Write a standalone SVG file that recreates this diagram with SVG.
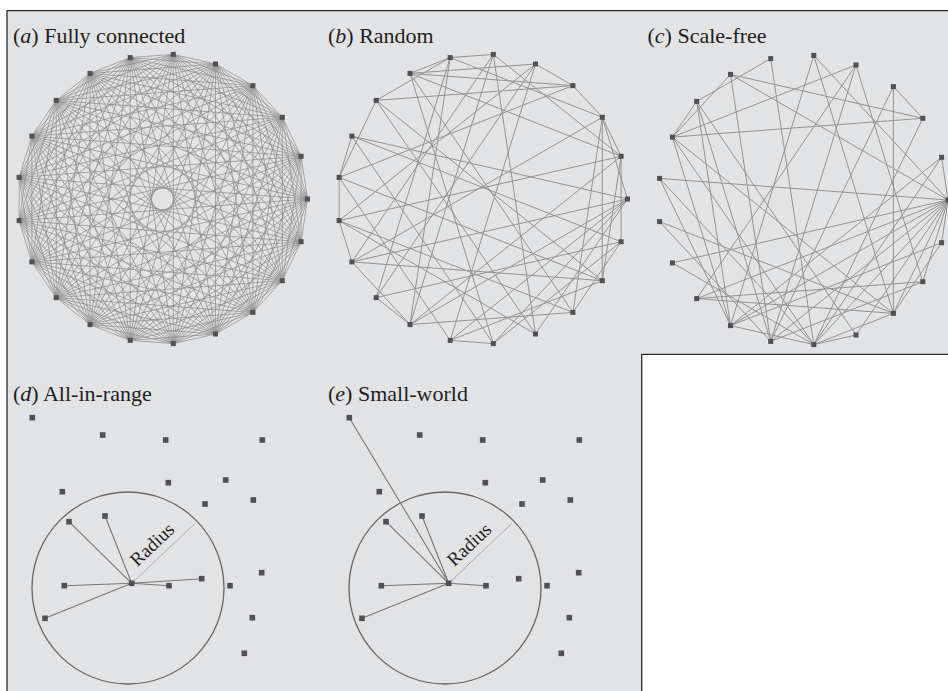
<svg xmlns="http://www.w3.org/2000/svg" xmlns:xlink="http://www.w3.org/1999/xlink" width="948" height="691" viewBox="0 0 948 691">
<style>
.t{font-family:"Liberation Serif","Times New Roman",serif;font-size:22px;fill:#1e1e1e}
.ka{fill:none;stroke:#8a8a8a;stroke-width:0.7;stroke-linejoin:round}
.e{fill:none;stroke:#939393;stroke-width:1}
.ed{fill:none;stroke:#767676;stroke-width:1.1}
.rad{fill:none;stroke:#a3a3a3;stroke-width:0.9}
.cir{fill:none;stroke:#666;stroke-width:1.3}
.nd{fill:#4f5154}
</style>
<defs>
<rect id="sq" x="-2.5" y="-2.5" width="5" height="5"/>
<rect id="sqb" x="-2.8" y="-2.8" width="5.6" height="5.6"/>
</defs>
<rect x="0" y="0" width="948" height="691" fill="#ffffff"/>
<path d="M7,10.7 H952 V354.3 H641.7 V695 H7 Z" fill="#e2e3e5" stroke="#2a2a2a" stroke-width="1.3"/>

<text class="t" x="13" y="42.5">(<tspan font-style="italic">a</tspan>) Fully connected</text>
<text class="t" x="328" y="42.5">(<tspan font-style="italic">b</tspan>) Random</text>
<text class="t" x="647.5" y="42.5">(<tspan font-style="italic">c</tspan>) Scale-free</text>
<text class="t" x="13" y="400.5">(<tspan font-style="italic">d</tspan>) All-in-range</text>
<text class="t" x="328" y="400.5">(<tspan font-style="italic">e</tspan>) Small-world</text>

<!-- Panel a: fully connected -->
<g id="edges-a" transform="translate(162.5,199)" class="ka">
<path d="M145,0 L138.6,-42.7 119.8,-81.7 90.4,-113.4 53,-135 10.8,-144.6 -32.3,-141.4 -72.5,-125.6 -106.3,-98.6 -130.6,-62.9 -143.4,-21.6 -143.4,21.6 -130.6,62.9 -106.3,98.6 -72.5,125.6 -32.3,141.4 10.8,144.6 53,135 90.4,113.4 119.8,81.7 138.6,42.7Z"/>
<path d="M145,0 L119.8,-81.7 53,-135 -32.3,-141.4 -106.3,-98.6 -143.4,-21.6 -130.6,62.9 -72.5,125.6 10.8,144.6 90.4,113.4 138.6,42.7 138.6,-42.7 90.4,-113.4 10.8,-144.6 -72.5,-125.6 -130.6,-62.9 -143.4,21.6 -106.3,98.6 -32.3,141.4 53,135 119.8,81.7Z"/>
<path d="M145,0 L53,-135 -106.3,-98.6 -130.6,62.9 10.8,144.6 138.6,42.7 90.4,-113.4 -72.5,-125.6 -143.4,21.6 -32.3,141.4 119.8,81.7 119.8,-81.7 -32.3,-141.4 -143.4,-21.6 -72.5,125.6 90.4,113.4 138.6,-42.7 10.8,-144.6 -130.6,-62.9 -106.3,98.6 53,135Z"/>
<path d="M145,0 L10.8,-144.6 -143.4,-21.6 -32.3,141.4 138.6,42.7 53,-135 -130.6,-62.9 -72.5,125.6 119.8,81.7 90.4,-113.4 -106.3,-98.6 -106.3,98.6 90.4,113.4 119.8,-81.7 -72.5,-125.6 -130.6,62.9 53,135 138.6,-42.7 -32.3,-141.4 -143.4,21.6 10.8,144.6Z"/>
<path d="M145,0 L-106.3,-98.6 10.8,144.6 90.4,-113.4 -143.4,21.6 119.8,81.7 -32.3,-141.4 -72.5,125.6 138.6,-42.7 -130.6,-62.9 53,135 53,-135 -130.6,62.9 138.6,42.7 -72.5,-125.6 -32.3,141.4 119.8,-81.7 -143.4,-21.6 90.4,113.4 10.8,-144.6 -106.3,98.6Z"/>
<path d="M145,0 L-143.4,-21.6 138.6,42.7 -130.6,-62.9 119.8,81.7 -106.3,-98.6 90.4,113.4 -72.5,-125.6 53,135 -32.3,-141.4 10.8,144.6 10.8,-144.6 -32.3,141.4 53,-135 -72.5,125.6 90.4,-113.4 -106.3,98.6 119.8,-81.7 -130.6,62.9 138.6,-42.7 -143.4,21.6Z"/>
<path d="M145,0 L90.4,-113.4 -32.3,-141.4 -130.6,-62.9 -130.6,62.9 -32.3,141.4 90.4,113.4Z M138.6,-42.7 L53,-135 -72.5,-125.6 -143.4,-21.6 -106.3,98.6 10.8,144.6 119.8,81.7Z M119.8,-81.7 L10.8,-144.6 -106.3,-98.6 -143.4,21.6 -72.5,125.6 53,135 138.6,42.7Z"/>
<path d="M145,0 L-32.3,-141.4 -130.6,62.9 90.4,113.4 90.4,-113.4 -130.6,-62.9 -32.3,141.4Z M138.6,-42.7 L-72.5,-125.6 -106.3,98.6 119.8,81.7 53,-135 -143.4,-21.6 10.8,144.6Z M119.8,-81.7 L-106.3,-98.6 -72.5,125.6 138.6,42.7 10.8,-144.6 -143.4,21.6 53,135Z"/>
<path d="M145,0 L-130.6,-62.9 90.4,113.4 -32.3,-141.4 -32.3,141.4 90.4,-113.4 -130.6,62.9Z M138.6,-42.7 L-143.4,-21.6 119.8,81.7 -72.5,-125.6 10.8,144.6 53,-135 -106.3,98.6Z M119.8,-81.7 L-143.4,21.6 138.6,42.7 -106.3,-98.6 53,135 10.8,-144.6 -72.5,125.6Z"/>
<path d="M145,0 L-72.5,-125.6 -72.5,125.6Z M138.6,-42.7 L-106.3,-98.6 -32.3,141.4Z M119.8,-81.7 L-130.6,-62.9 10.8,144.6Z M90.4,-113.4 L-143.4,-21.6 53,135Z M53,-135 L-143.4,21.6 90.4,113.4Z M10.8,-144.6 L-130.6,62.9 119.8,81.7Z M-32.3,-141.4 L-106.3,98.6 138.6,42.7Z"/>
</g>
<g id="nodes-a" transform="translate(162.5,199)" class="nd">
<g id="a0"><use xlink:href="#sq" x="145" y="0"/></g>
<g id="a1"><use xlink:href="#sq" x="138.6" y="-42.7"/></g>
<g id="a2"><use xlink:href="#sq" x="119.8" y="-81.7"/></g>
<g id="a3"><use xlink:href="#sq" x="90.4" y="-113.4"/></g>
<g id="a4"><use xlink:href="#sq" x="53" y="-135"/></g>
<g id="a5"><use xlink:href="#sq" x="10.8" y="-144.6"/></g>
<g id="a6"><use xlink:href="#sq" x="-32.3" y="-141.4"/></g>
<g id="a7"><use xlink:href="#sq" x="-72.5" y="-125.6"/></g>
<g id="a8"><use xlink:href="#sq" x="-106.3" y="-98.6"/></g>
<g id="a9"><use xlink:href="#sq" x="-130.6" y="-62.9"/></g>
<g id="a10"><use xlink:href="#sq" x="-143.4" y="-21.6"/></g>
<g id="a11"><use xlink:href="#sq" x="-143.4" y="21.6"/></g>
<g id="a12"><use xlink:href="#sq" x="-130.6" y="62.9"/></g>
<g id="a13"><use xlink:href="#sq" x="-106.3" y="98.6"/></g>
<g id="a14"><use xlink:href="#sq" x="-72.5" y="125.6"/></g>
<g id="a15"><use xlink:href="#sq" x="-32.3" y="141.4"/></g>
<g id="a16"><use xlink:href="#sq" x="10.8" y="144.6"/></g>
<g id="a17"><use xlink:href="#sq" x="53" y="135"/></g>
<g id="a18"><use xlink:href="#sq" x="90.4" y="113.4"/></g>
<g id="a19"><use xlink:href="#sq" x="119.8" y="81.7"/></g>
<g id="a20"><use xlink:href="#sq" x="138.6" y="42.7"/></g>
</g>

<!-- Panel b: random -->
<g id="edges-b" transform="translate(482.5,199)" class="e">
<path d="M10.8,-144.6 L-32.3,-141.4"/>
<path d="M-32.3,-141.4 L-72.5,-125.6"/>
<path d="M-32.3,-141.4 L-106.3,-98.6"/>
<path d="M-32.3,-141.4 L-72.5,125.6"/>
<path d="M-32.3,-141.4 L-106.3,98.6"/>
<path d="M-32.3,-141.4 L119.8,-81.7"/>
<path d="M-72.5,-125.6 L90.4,-113.4"/>
<path d="M-72.5,-125.6 L53,-135"/>
<path d="M-72.5,-125.6 L138.6,-42.7"/>
<path d="M-72.5,-125.6 L90.4,113.4"/>
<path d="M-106.3,-98.6 L90.4,-113.4"/>
<path d="M-106.3,-98.6 L-143.4,-21.6"/>
<path d="M-106.3,-98.6 L53,135"/>
<path d="M-106.3,-98.6 L119.8,81.7"/>
<path d="M-130.6,-62.9 L-143.4,-21.6"/>
<path d="M-130.6,-62.9 L138.6,42.7"/>
<path d="M-130.6,-62.9 L145,0"/>
<path d="M-130.6,-62.9 L10.8,144.6"/>
<path d="M-143.4,-21.6 L-143.4,21.6"/>
<path d="M-143.4,-21.6 L90.4,-113.4"/>
<path d="M-143.4,-21.6 L119.8,81.7"/>
<path d="M-143.4,-21.6 L-32.3,141.4"/>
<path d="M-143.4,21.6 L138.6,-42.7"/>
<path d="M-143.4,21.6 L-130.6,62.9"/>
<path d="M-143.4,21.6 L90.4,113.4"/>
<path d="M-143.4,21.6 L53,135"/>
<path d="M-130.6,62.9 L119.8,81.7"/>
<path d="M-130.6,62.9 L119.8,-81.7"/>
<path d="M-130.6,62.9 L-72.5,125.6"/>
<path d="M-130.6,62.9 L145,0"/>
<path d="M-106.3,98.6 L-72.5,125.6"/>
<path d="M-106.3,98.6 L53,-135"/>
<path d="M-106.3,98.6 L138.6,42.7"/>
<path d="M-72.5,125.6 L145,0"/>
<path d="M-72.5,125.6 L138.6,-42.7"/>
<path d="M-72.5,125.6 L90.4,113.4"/>
<path d="M-72.5,125.6 L10.8,-144.6"/>
<path d="M-32.3,141.4 L10.8,144.6"/>
<path d="M-32.3,141.4 L53,-135"/>
<path d="M-32.3,141.4 L145,0"/>
<path d="M-32.3,141.4 L119.8,81.7"/>
<path d="M10.8,144.6 L-72.5,-125.6"/>
<path d="M10.8,144.6 L145,0"/>
<path d="M10.8,144.6 L138.6,42.7"/>
<path d="M53,135 L10.8,-144.6"/>
<path d="M53,135 L145,0"/>
<path d="M90.4,113.4 L119.8,-81.7"/>
<path d="M90.4,113.4 L138.6,42.7"/>
<path d="M119.8,81.7 L119.8,-81.7"/>
<path d="M119.8,81.7 L138.6,-42.7"/>
<path d="M138.6,42.7 L138.6,-42.7"/>
<path d="M119.8,-81.7 L138.6,-42.7"/>
<path d="M90.4,-113.4 L119.8,-81.7"/>
<path d="M10.8,-144.6 L138.6,-42.7"/>
<path d="M53,-135 L90.4,-113.4"/>
<path d="M145,0 L119.8,-81.7"/>
<path d="M10.8,-144.6 L-130.6,62.9"/>
<path d="M53,-135 L-143.4,21.6"/>
</g>
<g id="nodes-b" transform="translate(482.5,199)" class="nd">
<g id="b0"><use xlink:href="#sq" x="145" y="0"/></g>
<g id="b1"><use xlink:href="#sq" x="138.6" y="-42.7"/></g>
<g id="b2"><use xlink:href="#sq" x="119.8" y="-81.7"/></g>
<g id="b3"><use xlink:href="#sq" x="90.4" y="-113.4"/></g>
<g id="b4"><use xlink:href="#sq" x="53" y="-135"/></g>
<g id="b5"><use xlink:href="#sq" x="10.8" y="-144.6"/></g>
<g id="b6"><use xlink:href="#sq" x="-32.3" y="-141.4"/></g>
<g id="b7"><use xlink:href="#sq" x="-72.5" y="-125.6"/></g>
<g id="b8"><use xlink:href="#sq" x="-106.3" y="-98.6"/></g>
<g id="b9"><use xlink:href="#sq" x="-130.6" y="-62.9"/></g>
<g id="b10"><use xlink:href="#sq" x="-143.4" y="-21.6"/></g>
<g id="b11"><use xlink:href="#sq" x="-143.4" y="21.6"/></g>
<g id="b12"><use xlink:href="#sq" x="-130.6" y="62.9"/></g>
<g id="b13"><use xlink:href="#sq" x="-106.3" y="98.6"/></g>
<g id="b14"><use xlink:href="#sq" x="-72.5" y="125.6"/></g>
<g id="b15"><use xlink:href="#sq" x="-32.3" y="141.4"/></g>
<g id="b16"><use xlink:href="#sq" x="10.8" y="144.6"/></g>
<g id="b17"><use xlink:href="#sq" x="53" y="135"/></g>
<g id="b18"><use xlink:href="#sq" x="90.4" y="113.4"/></g>
<g id="b19"><use xlink:href="#sq" x="119.8" y="81.7"/></g>
<g id="b20"><use xlink:href="#sq" x="138.6" y="42.7"/></g>
</g>

<!-- Panel c: scale-free -->
<g id="edges-c" transform="translate(803,200)" class="e">
<path d="M145,0 L-143.4,-21.6"/>
<path d="M145,0 L-130.6,62.9"/>
<path d="M145,0 L-72.5,-125.6"/>
<path d="M145,0 L10.8,-144.6"/>
<path d="M145,0 L138.6,42.7"/>
<path d="M145,0 L119.8,81.7"/>
<path d="M145,0 L90.4,113.4"/>
<path d="M145,0 L53,135"/>
<path d="M145,0 L10.8,144.6"/>
<path d="M145,0 L-32.3,141.4"/>
<path d="M145,0 L-72.5,125.6"/>
<path d="M145,0 L-106.3,98.6"/>
<path d="M145,0 L138.6,-42.7"/>
<path d="M90.4,-113.4 L90.4,113.4"/>
<path d="M90.4,-113.4 L119.8,-81.7"/>
<path d="M-130.6,-62.9 L119.8,-81.7"/>
<path d="M-130.6,-62.9 L53,-135"/>
<path d="M-130.6,-62.9 L-72.5,-125.6"/>
<path d="M-130.6,-62.9 L-106.3,-98.6"/>
<path d="M-130.6,-62.9 L-72.5,125.6"/>
<path d="M-130.6,-62.9 L90.4,113.4"/>
<path d="M-130.6,-62.9 L10.8,144.6"/>
<path d="M-106.3,-98.6 L-32.3,-141.4"/>
<path d="M-106.3,-98.6 L-72.5,125.6"/>
<path d="M-106.3,-98.6 L-32.3,141.4"/>
<path d="M-106.3,-98.6 L53,135"/>
<path d="M-72.5,-125.6 L-32.3,141.4"/>
<path d="M-32.3,-141.4 L10.8,144.6"/>
<path d="M-72.5,-125.6 L119.8,-81.7"/>
<path d="M10.8,-144.6 L90.4,113.4"/>
<path d="M10.8,-144.6 L-72.5,125.6"/>
<path d="M53,-135 L-32.3,141.4"/>
<path d="M53,-135 L-106.3,98.6"/>
<path d="M53,-135 L119.8,81.7"/>
<path d="M138.6,-42.7 L-72.5,125.6"/>
<path d="M138.6,-42.7 L10.8,144.6"/>
<path d="M119.8,-81.7 L10.8,144.6"/>
<path d="M-143.4,-21.6 L-72.5,125.6"/>
<path d="M-143.4,-21.6 L10.8,144.6"/>
<path d="M-143.4,21.6 L90.4,113.4"/>
<path d="M-143.4,21.6 L-32.3,141.4"/>
<path d="M-130.6,62.9 L10.8,144.6"/>
<path d="M-106.3,98.6 L90.4,113.4"/>
<path d="M-106.3,98.6 L119.8,81.7"/>
<path d="M-72.5,125.6 L10.8,144.6"/>
<path d="M10.8,144.6 L53,135"/>
<path d="M10.8,144.6 L90.4,113.4"/>
<path d="M90.4,113.4 L138.6,42.7"/>
<path d="M119.8,81.7 L-32.3,141.4"/>
<path d="M138.6,42.7 L-72.5,125.6"/>
<path d="M90.4,-113.4 L-32.3,141.4"/>
</g>
<g id="nodes-c" transform="translate(803,200)" class="nd">
<g id="c0"><use xlink:href="#sq" x="145" y="0"/></g>
<g id="c1"><use xlink:href="#sq" x="138.6" y="-42.7"/></g>
<g id="c2"><use xlink:href="#sq" x="119.8" y="-81.7"/></g>
<g id="c3"><use xlink:href="#sq" x="90.4" y="-113.4"/></g>
<g id="c4"><use xlink:href="#sq" x="53" y="-135"/></g>
<g id="c5"><use xlink:href="#sq" x="10.8" y="-144.6"/></g>
<g id="c6"><use xlink:href="#sq" x="-32.3" y="-141.4"/></g>
<g id="c7"><use xlink:href="#sq" x="-72.5" y="-125.6"/></g>
<g id="c8"><use xlink:href="#sq" x="-106.3" y="-98.6"/></g>
<g id="c9"><use xlink:href="#sq" x="-130.6" y="-62.9"/></g>
<g id="c10"><use xlink:href="#sq" x="-143.4" y="-21.6"/></g>
<g id="c11"><use xlink:href="#sq" x="-143.4" y="21.6"/></g>
<g id="c12"><use xlink:href="#sq" x="-130.6" y="62.9"/></g>
<g id="c13"><use xlink:href="#sq" x="-106.3" y="98.6"/></g>
<g id="c14"><use xlink:href="#sq" x="-72.5" y="125.6"/></g>
<g id="c15"><use xlink:href="#sq" x="-32.3" y="141.4"/></g>
<g id="c16"><use xlink:href="#sq" x="10.8" y="144.6"/></g>
<g id="c17"><use xlink:href="#sq" x="53" y="135"/></g>
<g id="c18"><use xlink:href="#sq" x="90.4" y="113.4"/></g>
<g id="c19"><use xlink:href="#sq" x="119.8" y="81.7"/></g>
<g id="c20"><use xlink:href="#sq" x="138.6" y="42.7"/></g>
</g>

<!-- Panel d: all-in-range -->
<g id="edges-d">
<circle class="cir" cx="128" cy="588" r="96"/>
<path class="rad" d="M131.7,583.3 L195,523.3"/>
<path class="ed" d="M131.7,583.3 L69,521.7"/>
<path class="ed" d="M131.7,583.3 L105,516"/>
<path class="ed" d="M131.7,583.3 L64.3,585.7"/>
<path class="ed" d="M131.7,583.3 L169,585.7"/>
<path class="ed" d="M131.7,583.3 L201.7,578.7"/>
<path class="ed" d="M131.7,583.3 L45,618.3"/>
</g>
<text class="t" style="font-size:19px" text-anchor="middle" transform="translate(156.5,549) rotate(-43.5)">Radius</text>
<g id="nodes-d" class="nd">
<g id="d1"><use xlink:href="#sqb" x="32.3" y="417.7"/></g>
<g id="d2"><use xlink:href="#sqb" x="102.7" y="435"/></g>
<g id="d3"><use xlink:href="#sqb" x="165.7" y="440"/></g>
<g id="d4"><use xlink:href="#sqb" x="262.3" y="440"/></g>
<g id="d5"><use xlink:href="#sqb" x="168.3" y="482.7"/></g>
<g id="d6"><use xlink:href="#sqb" x="225.7" y="480"/></g>
<g id="d7"><use xlink:href="#sqb" x="62.3" y="491.7"/></g>
<g id="d8"><use xlink:href="#sqb" x="205" y="504"/></g>
<g id="d9"><use xlink:href="#sqb" x="253.3" y="500"/></g>
<g id="d10"><use xlink:href="#sqb" x="69" y="521.7"/></g>
<g id="d11"><use xlink:href="#sqb" x="105" y="516"/></g>
<g id="d12"><use xlink:href="#sqb" x="131.7" y="583.3"/></g>
<g id="d13"><use xlink:href="#sqb" x="64.3" y="585.7"/></g>
<g id="d14"><use xlink:href="#sqb" x="169" y="585.7"/></g>
<g id="d15"><use xlink:href="#sqb" x="201.7" y="578.7"/></g>
<g id="d16"><use xlink:href="#sqb" x="230" y="585.7"/></g>
<g id="d17"><use xlink:href="#sqb" x="261.7" y="572.7"/></g>
<g id="d18"><use xlink:href="#sqb" x="45" y="618.3"/></g>
<g id="d19"><use xlink:href="#sqb" x="252.3" y="617.7"/></g>
<g id="d20"><use xlink:href="#sqb" x="244.3" y="653.3"/></g>
</g>

<!-- Panel e: small-world -->
<g id="edges-e" transform="translate(317,0)">
<circle class="cir" cx="128" cy="588" r="96"/>
<path class="rad" d="M131.7,583.3 L195,523.3"/>
<path class="ed" d="M131.7,583.3 L69,521.7"/>
<path class="ed" d="M131.7,583.3 L105,516"/>
<path class="ed" d="M131.7,583.3 L64.3,585.7"/>
<path class="ed" d="M131.7,583.3 L169,585.7"/>
<path class="ed" d="M131.7,583.3 L45,618.3"/>
<path class="ed" d="M131.7,583.3 L32.3,417.7"/>
</g>
<text class="t" style="font-size:19px" text-anchor="middle" transform="translate(473.5,549) rotate(-43.5)">Radius</text>
<g id="nodes-e" class="nd" transform="translate(317,0)">
<g id="e1"><use xlink:href="#sqb" x="32.3" y="417.7"/></g>
<g id="e2"><use xlink:href="#sqb" x="102.7" y="435"/></g>
<g id="e3"><use xlink:href="#sqb" x="165.7" y="440"/></g>
<g id="e4"><use xlink:href="#sqb" x="262.3" y="440"/></g>
<g id="e5"><use xlink:href="#sqb" x="168.3" y="482.7"/></g>
<g id="e6"><use xlink:href="#sqb" x="225.7" y="480"/></g>
<g id="e7"><use xlink:href="#sqb" x="62.3" y="491.7"/></g>
<g id="e8"><use xlink:href="#sqb" x="205" y="504"/></g>
<g id="e9"><use xlink:href="#sqb" x="253.3" y="500"/></g>
<g id="e10"><use xlink:href="#sqb" x="69" y="521.7"/></g>
<g id="e11"><use xlink:href="#sqb" x="105" y="516"/></g>
<g id="e12"><use xlink:href="#sqb" x="131.7" y="583.3"/></g>
<g id="e13"><use xlink:href="#sqb" x="64.3" y="585.7"/></g>
<g id="e14"><use xlink:href="#sqb" x="169" y="585.7"/></g>
<g id="e15"><use xlink:href="#sqb" x="201.7" y="578.7"/></g>
<g id="e16"><use xlink:href="#sqb" x="230" y="585.7"/></g>
<g id="e17"><use xlink:href="#sqb" x="261.7" y="572.7"/></g>
<g id="e18"><use xlink:href="#sqb" x="45" y="618.3"/></g>
<g id="e19"><use xlink:href="#sqb" x="252.3" y="617.7"/></g>
<g id="e20"><use xlink:href="#sqb" x="244.3" y="653.3"/></g>
</g>
</svg>
